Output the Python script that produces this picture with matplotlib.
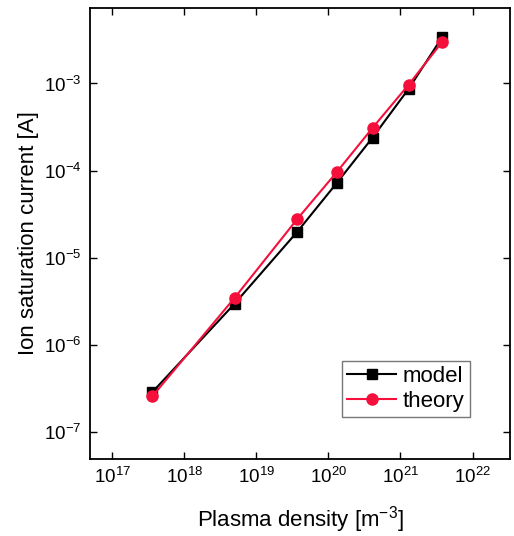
import matplotlib
matplotlib.use('Agg')
import matplotlib.pyplot as plt
from matplotlib.ticker import LogLocator, LogFormatterMathtext, NullLocator

plt.rcParams['font.family'] = ['Liberation Sans', 'DejaVu Sans']
plt.rcParams['mathtext.fontset'] = 'custom'
plt.rcParams['mathtext.rm'] = 'Liberation Sans'
plt.rcParams['mathtext.it'] = 'Liberation Sans:italic'

# data
density = [3.6e17, 5.0e18, 3.7e19, 1.3e20, 4.1e20, 1.3e21, 3.8e21]
model = [2.9e-7, 3.0e-6, 2.0e-5, 7.2e-5, 2.4e-4, 8.7e-4, 3.4e-3]
theory = [2.6e-7, 3.5e-6, 2.8e-5, 9.6e-5, 3.1e-4, 9.7e-4, 3.0e-3]

fig = plt.figure(figsize=(5.14, 5.36), dpi=100)
ax = fig.add_axes([90 / 514, 1 - 459 / 536, 420 / 514, 451 / 536])

ax.plot(density, model, color='black', marker='s', markersize=7.5, linewidth=1.5, label='model')
ax.plot(density, theory, color='#f5103c', marker='o', markersize=8, linewidth=1.5, label='theory')

ax.set_xscale('log')
ax.set_yscale('log')
ax.set_xlim(10 ** 16.69, 10 ** 22.52)
ax.set_ylim(10 ** -7.305, 10 ** -2.135)

ax.xaxis.set_major_locator(LogLocator(base=10, numticks=20))
ax.yaxis.set_major_locator(LogLocator(base=10, numticks=20))
ax.xaxis.set_minor_locator(NullLocator())
ax.yaxis.set_minor_locator(NullLocator())
ax.xaxis.set_major_formatter(LogFormatterMathtext())
ax.yaxis.set_major_formatter(LogFormatterMathtext())

ax.tick_params(which='major', direction='in', length=5, width=1, labelsize=13.5,
               top=True, right=True, pad=6)
for s in ax.spines.values():
    s.set_linewidth(1.3)

ax.set_xlabel('Plasma density [m$^{-3}$]', fontsize=16, labelpad=12)
ax.set_ylabel('Ion saturation current [A]', fontsize=16, labelpad=4)

leg = ax.legend(loc='lower right', bbox_to_anchor=(0.905, 0.093), borderaxespad=0,
                fancybox=False, edgecolor='#555555', fontsize=16, handlelength=2.2,
                handletextpad=0.3, borderpad=0.25, labelspacing=0.15)
leg.get_frame().set_linewidth(1.0)

fig.savefig('out.png', dpi=100, facecolor='white')
